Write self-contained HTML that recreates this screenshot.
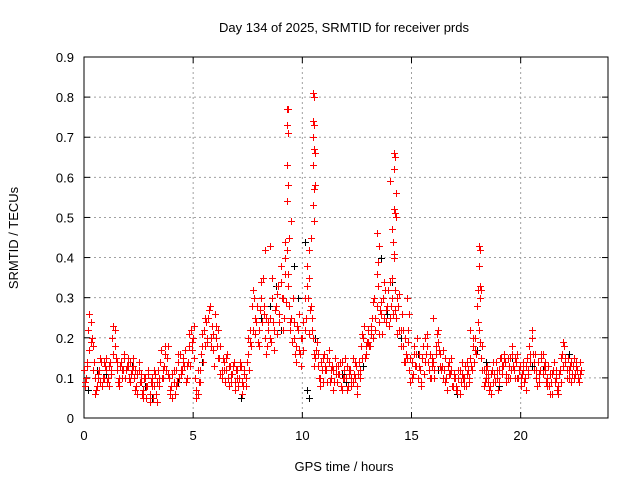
<!DOCTYPE html>
<html><head><meta charset="utf-8"><style>
body{margin:0;background:#fff;width:640px;height:480px;overflow:hidden}
svg{font-family:"Liberation Sans",sans-serif;font-size:13px}
</style></head><body>
<svg id="chart" width="640" height="480">
<rect x="0" y="0" width="640" height="480" fill="#fff"/>
<g id="grid"></g>
<g id="axes"></g>
<g id="marks"></g>
<text x="344" y="32" text-anchor="middle" fill="#000">Day 134 of 2025, SRMTID for receiver prds</text>
<text x="344" y="471" text-anchor="middle">GPS time / hours</text>
<text x="18" y="238" text-anchor="middle" transform="rotate(-90 18 238)">SRMTID / TECUs</text>
</svg>
<script>
const xTicks=[0,5,10,15,20];
const yTicks=[0,0.1,0.2,0.3,0.4,0.5,0.6,0.7,0.8,0.9];
const redA=[0.12,0.10,0.22,0.24,0.18,0.10,0.08,0.12,0.14,0.10,
0.12,0.10,0.14,0.20,0.22,0.12,0.10,0.14,0.12,0.10,
0.13,0.14,0.12,0.10,0.08,0.12,0.09,0.07,0.10,0.08,
0.06,0.10,0.08,0.06,0.12,0.14,0.10,0.16,0.15,0.10,
0.08,0.09,0.12,0.14,0.16,0.12,0.13,0.10,0.18,0.22,
0.20,0.10,0.06,0.12,0.18,0.22,0.24,0.25,0.20,0.17,
0.26,0.18,0.15,0.12,0.14,0.12,0.10,0.13,0.11,0.09,
0.12,0.10,0.13,0.08,0.10,0.16,0.22,0.28,0.30,0.24,
0.22,0.30,0.35,0.20,0.18,0.25,0.30,0.22,0.28,0.33,
0.38,0.30,0.36,0.42,0.28,0.25,0.20,0.18,0.22,0.16,
0.20,0.30,0.38,0.35,0.28,0.20,0.15,0.13,0.10,0.12,
0.16,0.12,0.14,0.10,0.12,0.15,0.09,0.11,0.14,0.12,
0.10,0.08,0.12,0.15,0.10,0.08,0.14,0.18,0.20,0.16,
0.22,0.18,0.25,0.30,0.28,0.24,0.26,0.30,0.32,0.28,
0.34,0.30,0.40,0.25,0.28,0.22,0.18,0.20,0.15,0.12,
0.14,0.18,0.16,0.10,0.12,0.15,0.20,0.18,0.12,0.10,
0.14,0.18,0.22,0.16,0.13,0.12,0.10,0.14,0.12,0.08,
0.10,0.07,0.12,0.14,0.10,0.08,0.12,0.15,0.18,0.20,
0.28,0.22,0.15,0.12,0.10,0.09,0.08,0.12,0.11,0.10,
0.12,0.15,0.13,0.14,0.10,0.15,0.16,0.12,0.14,0.10,
0.08,0.12,0.10,0.15,0.18,0.20,0.12,0.10,0.14,0.12,
0.16,0.12,0.10,0.08,0.09,0.12,0.10,0.08,0.12,0.16,
0.18,0.12,0.10,0.14,0.13,0.11,0.12,0.14];
const redB=[0.09,0.14,0.17,0.20,0.14,0.07,0.11,0.09,0.10,0.13,
0.09,0.13,0.11,0.16,0.15,0.09,0.13,0.10,0.15,0.13,
0.10,0.11,0.15,0.07,0.11,0.09,0.06,0.10,0.05,0.11,
0.09,0.05,0.11,0.09,0.08,0.10,0.13,0.12,0.18,0.07,
0.11,0.06,0.09,0.10,0.12,0.15,0.09,0.14,0.13,0.17,
0.15,0.07,0.09,0.16,0.14,0.18,0.20,0.28,0.23,0.13,
0.20,0.22,0.11,0.15,0.09,0.16,0.13,0.09,0.14,0.12,
0.08,0.13,0.09,0.11,0.14,0.12,0.18,0.22,0.25,0.19,
0.27,0.24,0.28,0.25,0.22,0.19,0.24,0.27,0.21,0.26,
0.30,0.25,0.29,0.33,0.22,0.30,0.16,0.23,0.17,0.20,
0.24,0.25,0.30,0.27,0.22,0.16,0.19,0.10,0.14,0.09,
0.12,0.15,0.09,0.13,0.09,0.11,0.13,0.08,0.10,0.15,
0.13,0.11,0.08,0.11,0.13,0.11,0.10,0.21,0.15,0.19,
0.18,0.23,0.20,0.25,0.33,0.27,0.21,0.25,0.27,0.23,
0.28,0.26,0.32,0.30,0.22,0.26,0.14,0.16,0.19,0.09,
0.11,0.13,0.20,0.13,0.09,0.11,0.16,0.14,0.16,0.13,
0.10,0.21,0.17,0.12,0.17,0.09,0.13,0.11,0.08,0.11,
0.07,0.10,0.09,0.10,0.13,0.11,0.09,0.12,0.14,0.16,
0.24,0.30,0.12,0.09,0.13,0.07,0.11,0.09,0.14,0.07,
0.15,0.11,0.16,0.11,0.13,0.12,0.13,0.15,0.10,0.13,
0.11,0.09,0.13,0.12,0.14,0.16,0.16,0.08,0.11,0.15,
0.13,0.09,0.13,0.11,0.06,0.09,0.07,0.11,0.15,0.13,
0.14,0.15,0.13,0.11,0.10,0.14,0.09,0.12];
const redC=[0.08,0.13,0.26,0.19,0.12,0.06,0.10,0.15,0.08,0.14,
0.15,0.08,0.12,0.23,0.18,0.14,0.08,0.12,0.16,0.12,
0.15,0.09,0.13,0.12,0.06,0.14,0.11,0.05,0.08,0.12,
0.04,0.08,0.12,0.04,0.10,0.17,0.12,0.18,0.11,0.06,
0.05,0.12,0.08,0.16,0.11,0.14,0.17,0.13,0.21,0.19,
0.23,0.05,0.12,0.09,0.21,0.25,0.19,0.27,0.18,0.21,
0.23,0.15,0.18,0.10,0.12,0.15,0.08,0.11,0.13,0.07,
0.10,0.14,0.06,0.12,0.08,0.20,0.19,0.32,0.21,0.28,
0.18,0.34,0.26,0.16,0.24,0.20,0.35,0.17,0.31,0.24,
0.34,0.22,0.40,0.36,0.24,0.19,0.24,0.14,0.26,0.13,
0.17,0.22,0.33,0.21,0.25,0.13,0.17,0.16,0.08,0.15,
0.13,0.09,0.17,0.12,0.07,0.13,0.11,0.14,0.07,0.10,
0.07,0.12,0.10,0.09,0.14,0.06,0.12,0.15,0.23,0.18,
0.19,0.21,0.29,0.22,0.36,0.21,0.29,0.34,0.24,0.32,
0.25,0.35,0.27,0.21,0.31,0.18,0.22,0.14,0.22,0.15,
0.10,0.16,0.13,0.16,0.08,0.18,0.14,0.21,0.10,0.15,
0.12,0.16,0.19,0.13,0.10,0.15,0.07,0.11,0.15,0.10,
0.08,0.12,0.06,0.11,0.08,0.14,0.10,0.13,0.20,0.17,
0.32,0.19,0.18,0.08,0.12,0.11,0.06,0.14,0.09,0.12,
0.09,0.13,0.15,0.09,0.15,0.10,0.18,0.10,0.16,0.12,
0.10,0.14,0.07,0.11,0.16,0.22,0.14,0.12,0.09,0.16,
0.11,0.14,0.08,0.06,0.11,0.14,0.12,0.06,0.09,0.19,
0.15,0.10,0.12,0.09,0.15,0.13,0.10,0.11];
const spikeT=[9.3,9.35,9.3,9.35,9.3,9.35,9.3,9.5,9.4,9.2,10.5,10.55,10.5,10.55,10.5,10.55,10.6,10.5,10.6,10.55,10.5,10.55,10.4,10.3,8.5,8.3,13.4,13.5,13.45,14.0,14.2,14.25,14.2,14.3,14.2,14.25,14.3,14.1,14.15,14.2,18.1,18.15,18.1,18.15,18.2,14.8,14.9,16.0,17.7];
const spikeV=[0.77,0.77,0.73,0.71,0.63,0.58,0.54,0.49,0.45,0.44,0.81,0.80,0.74,0.73,0.70,0.67,0.66,0.63,0.58,0.57,0.53,0.49,0.45,0.42,0.43,0.42,0.46,0.43,0.39,0.59,0.66,0.65,0.62,0.56,0.52,0.51,0.50,0.47,0.44,0.41,0.43,0.42,0.38,0.33,0.32,0.30,0.26,0.25,0.22];
const blackT=[0.2,1.0,2.2,3.1,4.3,5.4,6.3,7.2,8.1,8.8,9.2,9.6,10.1,10.3,10.6,11.2,12.0,12.8,13.3,13.6,14.1,14.5,15.3,16.2,17.1,18.0,19.0,19.6,20.5,21.4,22.2,0.6,2.8,5.9,8.5,9.0,9.8,10.2,11.8,13.9,14.6,18.4,21.0];
const blackV=[0.07,0.11,0.13,0.05,0.09,0.14,0.12,0.05,0.25,0.33,0.40,0.38,0.44,0.05,0.20,0.14,0.09,0.13,0.30,0.40,0.34,0.20,0.16,0.12,0.06,0.17,0.08,0.15,0.13,0.09,0.16,0.12,0.08,0.17,0.28,0.22,0.30,0.07,0.11,0.26,0.22,0.14,0.12];
const X0=84,X1=608,Y0=418,Y1=57;
const xs=t=>X0+t/24*(X1-X0);
const ys=v=>Y0-v/0.9*(Y0-Y1);
const NS="http://www.w3.org/2000/svg";
function mk(tag,attrs,parent){const e=document.createElementNS(NS,tag);for(const k in attrs)e.setAttribute(k,attrs[k]);parent.appendChild(e);return e;}
const grid=document.getElementById('grid'),axes=document.getElementById('axes'),marks=document.getElementById('marks');
xTicks.forEach(t=>{const x=xs(t);
 if(t>0){const g=mk('line',{x1:x,x2:x,y1:Y1,y2:Y0,stroke:'#a0a0a0','stroke-dasharray':'2,3'},grid);}
 mk('line',{x1:x,x2:x,y1:Y0,y2:Y0-6,stroke:'#000'},axes);mk('line',{x1:x,x2:x,y1:Y1,y2:Y1+6,stroke:'#000'},axes);
 const l=mk('text',{x:x,y:Y0+22,'text-anchor':'middle'},axes);l.textContent=t;
 
 });
yTicks.forEach(v=>{const y=ys(v);
 if(v>0&&v<0.9){const g=mk('line',{x1:X0,x2:X1,y1:y,y2:y,stroke:'#a0a0a0','stroke-dasharray':'2,3'},grid);}
 mk('line',{x1:X0,x2:X0+6,y1:y,y2:y,stroke:'#000'},axes);mk('line',{x1:X1,x2:X1-6,y1:y,y2:y,stroke:'#000'},axes);
 const l=mk('text',{x:X0-10,y:y+5,'text-anchor':'end'},axes);l.textContent=v===0?'0':v.toFixed(1);
 
 });
const fr=mk('rect',{x:X0,y:Y1,width:X1-X0,height:Y0-Y1,fill:'none',stroke:'#000'},axes);


function plus(t,v,c,name){const x=Math.round(xs(t))+0.5,y=Math.round(ys(v))+0.5;
 const p=mk('path',{d:`M${x-3.5} ${y}h7M${x} ${y-3.5}v7`,stroke:c,'stroke-width':1,fill:'none'},marks);
 
 }
blackT.forEach((t,i)=>plus(t,blackV[i],'#000','black-point'));
redA.forEach((v,i)=>plus(i*0.1,v,'#f00','red-point'));
redB.forEach((v,i)=>plus(i*0.1+0.05,v,'#f00','red-point'));
redC.forEach((v,i)=>plus(i*0.1+0.025,v,'#f00','red-point'));
spikeT.forEach((t,i)=>plus(t,spikeV[i],'#f00','red-spike-point'));
</script>
</body></html>
